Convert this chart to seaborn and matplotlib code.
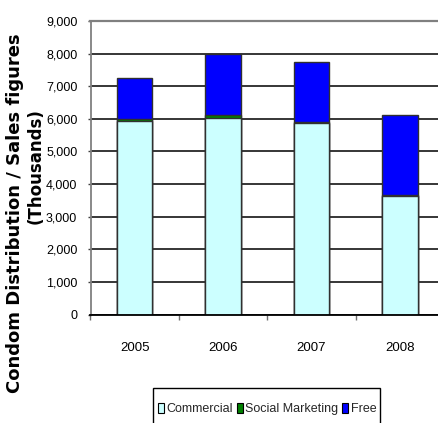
import matplotlib
matplotlib.use("Agg")
import matplotlib.pyplot as plt
import seaborn as sns
import pandas as pd
from matplotlib.patches import Patch, Rectangle
from matplotlib.ticker import FixedLocator, FuncFormatter

# Condom distribution / sales by channel (thousands)
years = ["2005", "2006", "2007", "2008"]
commercial = [5930, 6040, 5870, 3640]
social_marketing = [80, 90, 30, 20]
free = [1250, 1850, 1840, 2450]

series_names = ["Commercial", "Social Marketing", "Free"]
series_colors = ["#CCFFFF", "#008000", "#0000FF"]
y_ticks = list(range(0, 9001, 1000))

sns.set_theme(style="white")
plt.rcParams["font.family"] = ["Liberation Sans", "DejaVu Sans"]

df = pd.DataFrame({
    "year": years,
    "Commercial": commercial,
    "Social Marketing": social_marketing,
    "Free": free,
})
# cumulative tops of each stacked segment
df["top_commercial"] = df["Commercial"]
df["top_social"] = df["top_commercial"] + df["Social Marketing"]
df["top_free"] = df["top_social"] + df["Free"]

W, H = 438, 423
fig = plt.figure(figsize=(W / 100, H / 100), dpi=100)
ax = fig.add_axes([90.5 / W, 1 - 314.5 / H, 353.6 / W, (314.5 - 21) / H])

# draw the tallest (total) first, then overlay the lower segments
for col, color in [("top_free", series_colors[2]),
                   ("top_social", series_colors[1]),
                   ("top_commercial", series_colors[0])]:
    sns.barplot(data=df, x="year", y=col, color=color, saturation=1,
                width=0.4, edgecolor="#303030", linewidth=1.0,
                errorbar=None, ax=ax)

ax.set_xlim(-0.5, 3.5)
ax.set_ylim(0, 9000)
ax.set_xlabel("")
ax.set_ylabel("")

ax.yaxis.set_major_locator(FixedLocator(y_ticks))
ax.yaxis.set_major_formatter(FuncFormatter(lambda v, p: f"{int(v):,}"))
ax.grid(axis="y", color="black", linewidth=1.1)
ax.grid(axis="x", visible=False)
ax.set_axisbelow(True)

ax.spines["right"].set_visible(False)
ax.spines["left"].set_color("#808080")
ax.spines["left"].set_linewidth(1.3)
ax.spines["top"].set_color("#808080")
ax.spines["top"].set_linewidth(1.6)
ax.spines["bottom"].set_color("black")
ax.spines["bottom"].set_linewidth(1.3)

ax.tick_params(axis="y", which="major", left=True, direction="out",
               length=2.5, width=1, color="#404040", pad=7,
               labelsize=9, labelcolor="black")
ax.set_xticks([-0.5, 0.5, 1.5, 2.5, 3.5], minor=True)
ax.tick_params(axis="x", which="minor", bottom=True, direction="out",
               length=3.8, width=1, color="#707070")
ax.tick_params(axis="x", which="major", bottom=False, length=0, pad=20,
               labelsize=9.5, labelcolor="black")

label_kw = dict(rotation=90, ha="center", va="center",
                fontweight="bold", family="DejaVu Sans", color="black")
fig.text(15 / W, 1 - 213 / H, "Condom Distribution / Sales figures",
         fontsize=13, **label_kw)
fig.text(35.5 / W, 1 - 166 / H, "(Thousands)", fontsize=12, **label_kw)

# legend with an outer box running off the bottom edge
handles = [Patch(facecolor=c, edgecolor="black", linewidth=0.8, label=n)
           for n, c in zip(series_names, series_colors)]
fig.legend(handles=handles, loc="center", bbox_to_anchor=(267 / W, 1 - 409 / H),
           ncol=3, frameon=False, handlelength=0.5, handleheight=0.85,
           handletextpad=0.2, columnspacing=0.3, borderaxespad=0,
           borderpad=0, fontsize=9)
fig.patches.append(Rectangle((153 / W, 1 - 432 / H), 227 / W, 44 / H,
                             transform=fig.transFigure, fill=False,
                             edgecolor="black", linewidth=1.0))

fig.savefig("out.png", dpi=100)
